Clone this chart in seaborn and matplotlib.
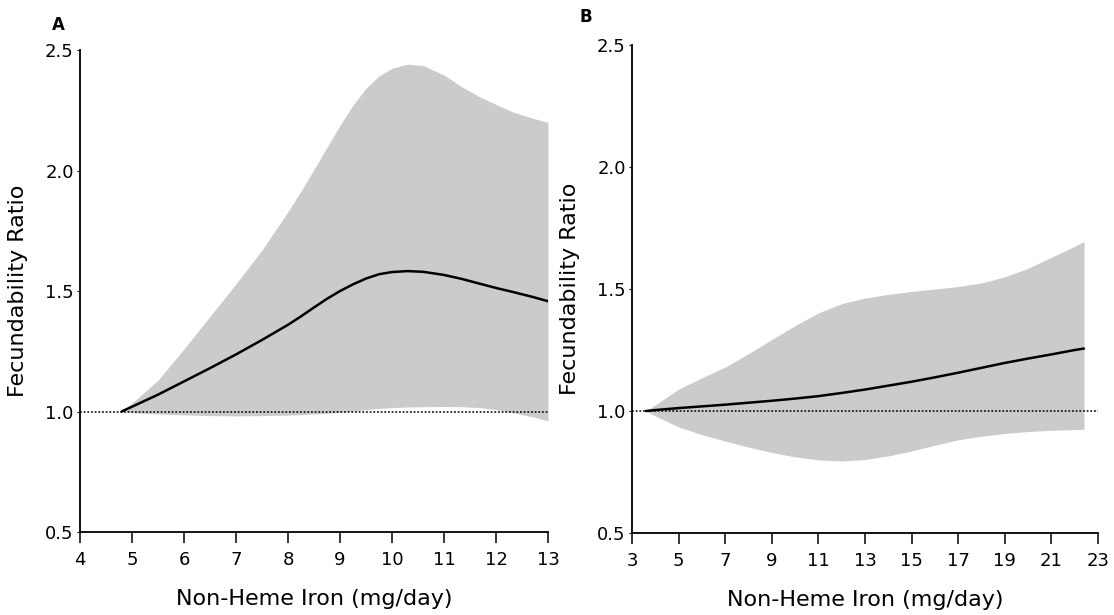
import matplotlib
matplotlib.use("Agg")
import matplotlib.pyplot as plt
import seaborn as sns
import pandas as pd

# Panel A: non-heme iron 4.8-13 mg/day
iron_a = [4.8, 5.0, 5.5, 6.0, 6.5, 7.0, 7.5, 8.0, 8.25, 8.5, 8.75, 9.0, 9.25,
          9.5, 9.75, 10.0, 10.3, 10.6, 11.0, 11.35, 11.7, 12.0, 12.33, 12.7, 13.0]
fr_a = [1.00, 1.02, 1.07, 1.125, 1.18, 1.237, 1.297, 1.36, 1.395, 1.432, 1.468,
        1.50, 1.528, 1.552, 1.57, 1.579, 1.583, 1.58, 1.567, 1.55, 1.53,
        1.513, 1.496, 1.476, 1.458]
upper_a = [1.00, 1.035, 1.13, 1.26, 1.395, 1.53, 1.67, 1.83, 1.915, 2.005, 2.097,
           2.188, 2.272, 2.342, 2.393, 2.425, 2.442, 2.436, 2.397, 2.347, 2.305,
           2.275, 2.243, 2.218, 2.20]
lower_a = [1.00, 0.995, 0.99, 0.986, 0.983, 0.982, 0.983, 0.985, 0.987, 0.99,
           0.993, 0.996, 1.001, 1.008, 1.013, 1.016, 1.019, 1.02, 1.021, 1.02,
           1.016, 1.008, 0.995, 0.978, 0.962]

# Panel B: non-heme iron 3.6-22.4 mg/day
iron_b = [3.6, 4.0, 5.0, 6.0, 7.0, 8.0, 9.0, 10.0, 11.0, 12.0, 13.0, 14.0,
          15.0, 16.0, 17.0, 18.0, 19.0, 20.0, 21.0, 22.0, 22.4]
fr_b = [1.00, 1.004, 1.012, 1.019, 1.026, 1.034, 1.042, 1.051, 1.061, 1.074,
        1.088, 1.104, 1.12, 1.138, 1.157, 1.177, 1.197, 1.215, 1.232, 1.25, 1.256]
upper_b = [1.00, 1.025, 1.09, 1.136, 1.18, 1.235, 1.293, 1.35, 1.402, 1.44,
           1.463, 1.478, 1.49, 1.50, 1.51, 1.525, 1.55, 1.585, 1.63, 1.675, 1.694]
lower_b = [1.00, 0.98, 0.935, 0.903, 0.877, 0.852, 0.83, 0.812, 0.80, 0.795,
           0.801, 0.816, 0.836, 0.86, 0.882, 0.897, 0.908, 0.916, 0.921, 0.924, 0.925]

sns.set_style("ticks")
plt.rcParams["font.family"] = ["DejaVu Sans"]
plt.rcParams["text.color"] = "black"
plt.rcParams["axes.labelcolor"] = "black"

fig = plt.figure(figsize=(11.14, 6.15), dpi=100)
ax_a = fig.add_axes([0.0718, 0.135, 0.4201, 0.7834])
ax_b = fig.add_axes([0.5673, 0.1333, 0.4183, 0.7935])

panels = [
    (ax_a, iron_a, fr_a, upper_a, lower_a, (4, 13), list(range(4, 14)), "A",
     -0.047, 1.052),
    (ax_b, iron_b, fr_b, upper_b, lower_b, (3, 23), list(range(3, 24, 2)), "B",
     -0.099, 1.057),
]

for ax, x, y, hi, lo, xlim, xticks, tag, tx, ty in panels:
    df = pd.DataFrame({"iron": x, "fr": y})
    ax.fill_between(x, lo, hi, color="#cbcbcb", linewidth=0, zorder=1)
    ax.axhline(1.0, color="black", linestyle=(0, (1.2, 1.2)), linewidth=1.1,
               zorder=2)
    sns.lineplot(data=df, x="iron", y="fr", ax=ax, color="black",
                 linewidth=1.8, zorder=3)
    ax.set_xlim(*xlim)
    ax.set_ylim(0.5, 2.5)
    ax.set_xticks(xticks)
    ax.set_yticks([0.5, 1.0, 1.5, 2.0, 2.5])
    ax.set_yticklabels(["0.5", "1.0", "1.5", "2.0", "2.5"])
    sns.despine(ax=ax)
    for s in ["left", "bottom"]:
        ax.spines[s].set_linewidth(1.3)
        ax.spines[s].set_color("black")
    ax.tick_params(axis="x", length=8, width=1.1, labelsize=13, pad=6,
                   colors="black")
    ax.tick_params(axis="y", length=2.5, width=0.8, labelsize=13, pad=2,
                   colors="black")
    ax.set_xlabel("Non-Heme Iron (mg/day)", fontsize=16, labelpad=14)
    ax.set_ylabel("Fecundability Ratio", fontsize=16, labelpad=12)
    ax.text(tx, ty, tag, transform=ax.transAxes, fontsize=12,
            fontweight="bold", ha="center", va="center")

fig.savefig("out.png", dpi=100)
